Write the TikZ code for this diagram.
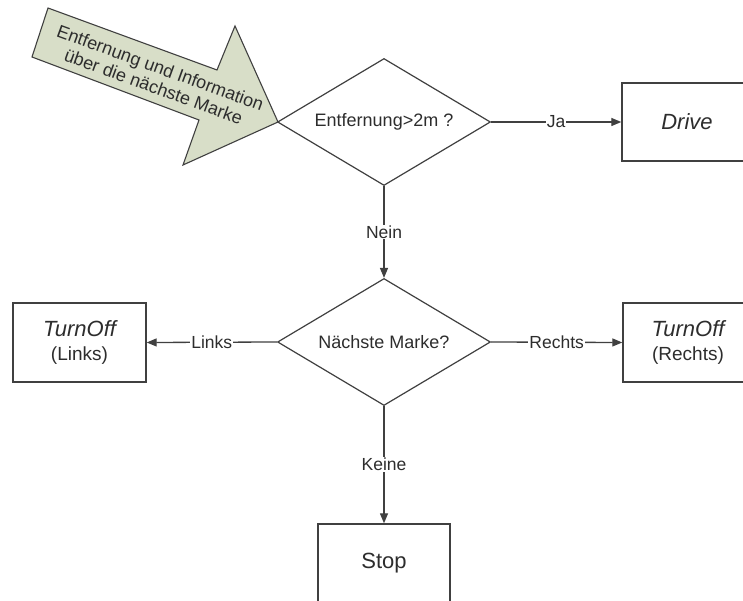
\documentclass[tikz,border=0pt]{standalone}
\usepackage{fontspec}
\setmainfont{Liberation Sans}
\usetikzlibrary{shapes.geometric,arrows.meta}
\definecolor{linegray}{RGB}{64,64,64}
\definecolor{txtgray}{RGB}{45,45,45}
\definecolor{arrowfill}{RGB}{216,222,200}
\tikzset{
  decision/.style={diamond, draw=linegray, line width=1.2pt, fill=white, inner sep=0pt,
    minimum width=213pt, minimum height=127pt, aspect=1.68, text=txtgray,
    font=\fontsize{18}{21}\selectfont},
  procbox/.style={rectangle, draw=linegray, line width=1.4pt, fill=white, text=txtgray,
    align=center, font=\fontsize{22}{26}\selectfont},
  flow/.style={draw=linegray, line width=1.3pt, -{Triangle[length=10pt,width=8pt]}},
  flowlabel/.style={fill=white, inner sep=1pt, text=txtgray, font=\fontsize{17.5}{20}\selectfont},
  bigarrow/.style={draw=linegray, line width=1.1pt, fill=arrowfill}
}
\begin{document}
\begin{tikzpicture}[x=1pt,y=-1pt]
\useasboundingbox (0,0) rectangle (743,601);
\fill[white] (0,0) rectangle (743,601);
\clip (0,0) rectangle (743,601);
% big input arrow
\draw[bigarrow] (48,8) -- (217,70) -- (235,26) -- (278,122) -- (183,165) -- (199,120) -- (32,57) -- cycle;
\node[rotate=-20, align=center, text=txtgray, font=\fontsize{18}{20}\selectfont] (intext) at (157,77)
  {Entfernung und Information\\über die nächste Marke};
% decisions
\node[decision] (d1) at (384,122) {Entfernung>2m ?};
\node[decision] (d2) at (384,342) {Nächste Marke?};
% boxes
\node[procbox, minimum width=130pt, minimum height=78pt] (drive) at (687,122) {\itshape Drive};
\node[procbox, minimum width=133pt, minimum height=79pt] (tl) at (79.5,342.5)
  {{\itshape TurnOff}\\[-2pt]{\fontsize{19}{22}\selectfont (Links)}};
\node[procbox, minimum width=130pt, minimum height=79pt] (tr) at (688,342.5)
  {{\itshape TurnOff}\\[-2pt]{\fontsize{19}{22}\selectfont (Rechts)}};
\node[procbox, minimum width=132pt, minimum height=79pt] (stop) at (384,563.5) {Stop};
% connectors
\draw[flow] (d1.east) -- node[flowlabel] {Ja} (drive.west);
\draw[flow] (d1.south) -- node[flowlabel] {Nein} (d2.north);
\draw[flow] (d2.west) -- node[flowlabel] {Links} (tl.east);
\draw[flow] (d2.east) -- node[flowlabel] {Rechts} (tr.west);
\draw[flow] (d2.south) -- node[flowlabel] {Keine} (stop.north);
\end{tikzpicture}
\end{document}
